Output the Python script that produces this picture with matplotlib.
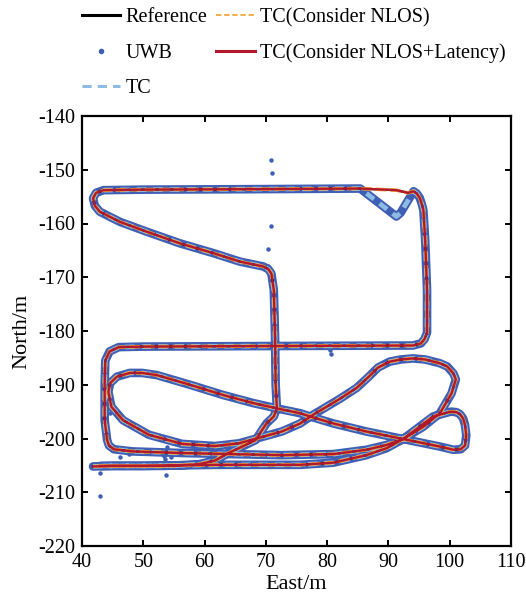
import matplotlib
matplotlib.use("Agg")
import matplotlib.pyplot as plt
from matplotlib.lines import Line2D
import numpy as np

plt.rcParams['font.family'] = ['Liberation Serif', 'DejaVu Serif']
plt.rcParams['axes.unicode_minus'] = False

# ---- trajectory (East, North) ----
path_a_x = [41.8, 45.0, 50.0, 56.0, 62.0, 68.0, 75.6, 81.0, 86.4, 89.7, 92.4, 95.7, 98.4,
            100.3, 101.0, 100.6, 99.6, 98.4, 96.0, 94.0, 92.0, 90.2, 88.3, 86.8, 84.8,
            82.1, 77.7, 75.6, 72.6, 68.8, 65.6, 61.7, 56.3, 50.9, 46.7, 44.8, 44.3, 44.6,
            45.7, 47.8, 49.8, 52.2, 57.6, 63.0, 67.9, 71.8, 75.6, 77.2, 81.0, 86.4, 92.4,
            98.4, 100.6, 101.8, 102.5, 102.7, 102.5, 102.2, 101.7, 101.1, 100.2, 99.5, 97.3, 92.4, 89.7, 86.4, 81.0,
            72.6, 64.5, 56.3, 48.2, 45.2, 44.4, 44.1, 43.7, 43.7, 43.8, 44.5, 46.0, 50.0, 70.0,
            94.0, 95.3, 95.9, 96.3, 96.3, 96.0, 95.7, 95.4, 95.1, 94.6, 94.1]
path_a_y = [-205.2, -205.1, -205.1, -205.0, -204.9, -204.9, -204.9, -204.5, -203.1, -201.8,
            -200.1, -197.8, -195.3, -191.6, -189.0, -187.9, -186.6, -186.0, -185.3, -185.1,
            -185.3, -185.7, -186.8, -188.5, -190.6, -192.6, -195.6, -197.2, -198.7, -199.9,
            -200.9, -201.4, -201.0, -199.3, -196.6, -194.1, -191.3, -189.7, -188.5, -187.8,
            -187.8, -188.2, -190.0, -191.9, -193.4, -194.4, -195.3, -195.9, -197.2, -198.7,
            -200.1, -201.5, -202.1, -202.0, -201.3, -199.4, -197.5, -196.3, -195.5, -195.1, -195.0, -195.2, -195.9, -200.1,
            -201.2, -202.1, -202.9, -203.1, -202.9, -202.7, -202.4, -202.0, -201.3, -200.3, -196.6,
            -190.0, -185.5, -183.8, -183.0, -182.9, -182.8, -182.7, -182.3, -181.5, -180.3, -172.4,
            -163.1, -157.5, -156.2, -155.2, -154.4, -154.0]

# top-right corner: reference vs. TC/UWB excursion
ref_corner_x = [93.2, 91.3]
ref_corner_y = [-154.3, -153.8]
tc_corner_x = [92.0, 91.3]
tc_corner_y = [-158.0, -158.7]

path_b_x = [85.4, 70.0, 50.0, 43.5, 42.3, 41.8, 42.1, 42.9, 46.2, 50.5, 56.0, 61.4, 65.8, 69.6,
            70.4, 70.9, 71.3, 71.5, 71.6, 71.8, 71.3, 70.1, 68.3, 65.6, 63.9, 61.7, 59.0, 53.5, 43.0]
path_b_y = [-153.5, -153.6, -153.7, -153.8, -154.3, -155.3, -156.7, -157.8, -159.7, -161.5, -163.7,
            -165.5, -167.1, -168.0, -168.5, -169.3, -172.4, -181.1, -190.0, -194.4, -195.9, -197.2, -200.3,
            -201.8, -202.7, -204.1, -204.8, -205.1, -205.1]

# UWB outliers away from the track
uwb_out_x = [70.8, 71.0, 71.1, 70.8, 70.3, 70.3, 80.5, 80.6, 44.5, 46.2, 47.7, 53.9, 53.5,
             54.5, 53.4, 53.7, 43.0, 42.9]
uwb_out_y = [-148.1, -150.6, -153.2, -160.5, -164.8, -167.9, -183.5, -184.3, -195.3, -203.5,
             -202.8, -201.5, -203.9, -203.4, -203.3, -206.7, -206.5, -210.7]

ref_x = path_a_x + ref_corner_x + path_b_x
ref_y = path_a_y + ref_corner_y + path_b_y
tc_x = path_a_x + tc_corner_x + path_b_x
tc_y = path_a_y + tc_corner_y + path_b_y

C_UWB = '#3f5fb5'
C_TC = '#8dbbe3'
C_NLOS = '#f4a640'
C_LAT = '#b2182b'

fig = plt.figure(figsize=(5.26, 6.06), dpi=100)
ax = fig.add_axes([82/526, 60/606, 429/526, 430/606])

# UWB band and outliers
ax.plot(tc_x, tc_y, color=C_UWB, lw=6.2, solid_capstyle='round', solid_joinstyle='round', zorder=1)
ax.plot(uwb_out_x, uwb_out_y, 'o', color=C_UWB, ms=3.2, mec='none', zorder=1)
# TC (light blue dashed)
ax.plot(tc_x, tc_y, color=C_TC, lw=3.4, ls=(0, (2.0, 1.5)), zorder=2)
# reference
ax.plot(ref_x, ref_y, color='black', lw=1.6, zorder=3)
# TC NLOS (orange dashed)
ax.plot(ref_x, ref_y, color=C_NLOS, lw=2.6, ls=(0, (3, 1.0)), zorder=4)
# TC NLOS + latency (red)
ax.plot(ref_x, ref_y, color=C_LAT, lw=1.7, zorder=5, solid_joinstyle='round')

ax.set_xlim(40, 110)
ax.set_ylim(-220, -140)
ax.set_xticks(np.arange(40, 111, 10))
ax.set_yticks(np.arange(-220, -139, 10))
ax.tick_params(direction='in', top=True, right=True, length=4, width=1.4,
               labelsize=14.5, pad=5)
for s in ax.spines.values():
    s.set_linewidth(1.6)
ax.set_xlabel('East/m', fontsize=16, labelpad=2)
ax.set_ylabel('North/m', fontsize=16, labelpad=5)

handles = [
    Line2D([], [], color='black', lw=2.2),
    Line2D([], [], color=C_UWB, marker='o', ms=3, ls='none'),
    Line2D([], [], color=C_TC, lw=2.2, ls=(0, (3, 2))),
    Line2D([], [], color=C_NLOS, lw=1.3, ls=(0, (3, 1.5))),
    Line2D([], [], color=C_LAT, lw=2.2),
]
labels = ['Reference', 'UWB', 'TC', 'TC(Consider NLOS)', 'TC(Consider NLOS+Latency)']
fig.legend(handles, labels, loc='upper left', bbox_to_anchor=(82/526, 1 - 8/606),
           ncol=2, frameon=False, fontsize=14.5, handlelength=1.9, handletextpad=0.25,
           columnspacing=0.45, labelspacing=0.82, borderpad=0, borderaxespad=0)

fig.savefig('out.png', dpi=100)
